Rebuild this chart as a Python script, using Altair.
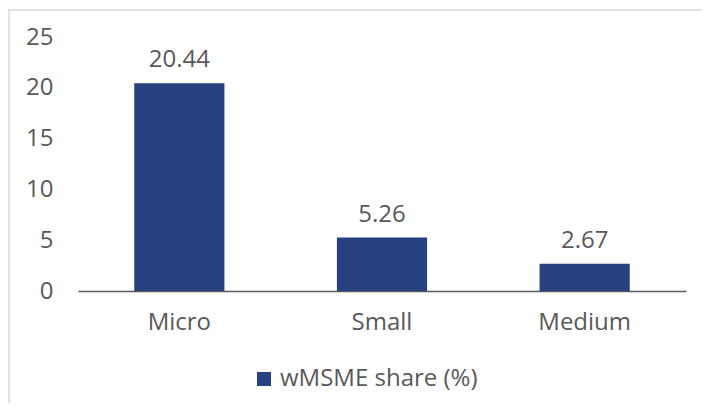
import altair as alt
import pandas as pd

categories = ["Micro", "Small", "Medium"]
values = [20.44, 5.26, 2.67]
series_name = "wMSME share (%)"

df = pd.DataFrame({"category": categories, "value": values, "series": [series_name] * 3})
df["label"] = [f"{v:.2f}" for v in values]

FONT = "Open Sans"
FS = 24
TXT = "#595959"
BAR = "#284180"

x = alt.X("category:N", sort=categories, title=None,
          scale=alt.Scale(paddingInner=0.555, paddingOuter=0.2775),
          axis=alt.Axis(labelAngle=0, labelFontSize=FS, labelColor=TXT, labelFont=FONT,
                        labelPadding=19, ticks=False, domainColor="#595959", domainWidth=1.5))
y = alt.Y("value:Q", title=None,
          scale=alt.Scale(domain=[0, 25], nice=False),
          axis=alt.Axis(values=[0, 5, 10, 15, 20, 25], grid=False, domain=False, ticks=False,
                        labelFontSize=FS, labelColor=TXT, labelFont=FONT, labelPadding=25))

border = alt.Chart(pd.DataFrame({"a": [0]})).mark_rect(
    fill=None, stroke="#d9d9d9", strokeWidth=1.5
).encode(x=alt.value(-69), x2=alt.value(700), y=alt.value(-27), y2=alt.value(420))

bars = alt.Chart(df).mark_bar(color=BAR).encode(
    x=x, y=y,
    color=alt.Color("series:N", scale=alt.Scale(range=[BAR]), title=None,
                    legend=alt.Legend(orient="none", legendX=174, legendY=330,
                                      symbolType="square", symbolSize=196, symbolStrokeWidth=0,
                                      labelFontSize=FS, labelColor=TXT, labelFont=FONT,
                                      labelLimit=0, labelOffset=4, padding=0)),
)

labels = alt.Chart(df).mark_text(dy=-23, fontSize=FS, color=TXT, font=FONT).encode(
    x=alt.X("category:N", sort=categories), y="value:Q", text="label:N"
)

chart = alt.layer(border, bars, labels).properties(
    width=608, height=254,
    autosize=alt.AutoSizeParams(type="none"),
    padding={"left": 70, "top": 29, "right": 16, "bottom": 112},
).configure_view(stroke=None)

chart.save("out.html", embed_options={"renderer": "svg", "actions": False})
